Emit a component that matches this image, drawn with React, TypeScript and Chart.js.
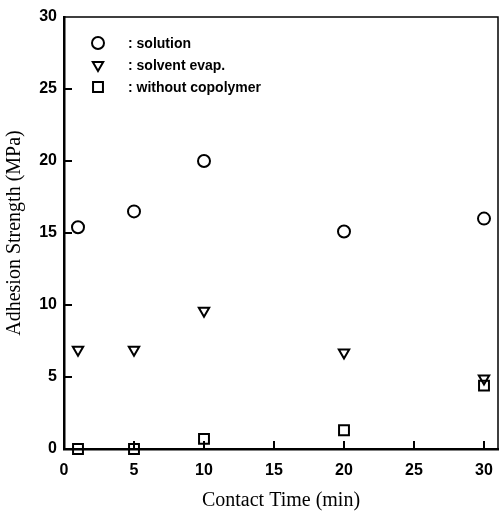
import React, { useEffect, useRef } from 'react';
import { Chart, registerables } from 'chart.js';
import { drawPoint } from 'chart.js/helpers';

Chart.register(...registerables);

// ---- data ----
const contactTime = [1, 5, 10, 20, 30];
const solution = [15.4, 16.5, 20.0, 15.1, 16.0];
const solventEvap = [6.9, 6.9, 9.6, 6.7, 4.9];
const withoutCopolymer = [0.0, 0.0, 0.7, 1.3, 4.4];
const seriesLabels = ['solution', 'solvent evap.', 'without copolymer'];
const xTickValues = [0, 5, 10, 15, 20, 25, 30];
const yTickValues = [0, 5, 10, 15, 20, 25, 30];
const xTitle = 'Contact Time (min)';
const yTitle = 'Adhesion Strength (MPa)';

const toPoints = (ys: number[]) => contactTime.map((x, i) => ({ x, y: ys[i] }));

const frameAndTicks = {
  id: 'frameAndTicks',
  afterDraw(chart: any) {
    const { ctx, chartArea, scales } = chart;
    const { left, right, top, bottom } = chartArea;
    ctx.save();
    ctx.strokeStyle = '#000';
    ctx.lineWidth = 1.5;
    ctx.beginPath();
    ctx.moveTo(left, top);
    ctx.lineTo(right, top);
    ctx.lineTo(right, bottom);
    ctx.stroke();
    ctx.lineWidth = 2;
    const tl = 8;
    ctx.beginPath();
    scales.x.ticks.forEach((t: any) => {
      if (t.value <= 0) return;
      const px = scales.x.getPixelForValue(t.value);
      ctx.moveTo(px, bottom);
      ctx.lineTo(px, bottom - tl);
    });
    scales.y.ticks.forEach((t: any) => {
      if (t.value <= 0 || t.value >= 30) return;
      const py = scales.y.getPixelForValue(t.value);
      ctx.moveTo(left, py);
      ctx.lineTo(left + tl, py);
    });
    ctx.stroke();
    ctx.restore();
  },
};

const innerLegend = {
  id: 'innerLegend',
  afterDraw(chart: any) {
    const { ctx, chartArea } = chart;
    ctx.save();
    ctx.font = 'bold 14px "Liberation Sans", Arial, sans-serif';
    ctx.textBaseline = 'middle';
    ctx.textAlign = 'left';
    chart.data.datasets.forEach((ds: any, i: number) => {
      const y = chartArea.top + 26 + i * 22;
      const mx = chartArea.left + 34;
      ctx.strokeStyle = '#000';
      ctx.fillStyle = 'rgba(0,0,0,0)';
      ctx.lineWidth = ds.pointBorderWidth;
      drawPoint(ctx, { pointStyle: ds.pointStyle, rotation: ds.pointRotation || 0, radius: ds.pointRadius, borderWidth: ds.pointBorderWidth }, mx, y);
      ctx.fillStyle = '#000';
      ctx.fillText(': ' + ds.label, chartArea.left + 64, y + 1);
    });
    ctx.restore();
  },
};

export default function App() {
  const ref = useRef<HTMLCanvasElement | null>(null);
  useEffect(() => {
    document.body.style.margin = '0';
    const common = {
      showLine: false,
      borderColor: '#000',
      backgroundColor: 'rgba(0,0,0,0)',
      pointBorderColor: '#000',
      pointBackgroundColor: 'rgba(0,0,0,0)',
      pointBorderWidth: 2,
    };
    const chart = new Chart(ref.current as HTMLCanvasElement, {
      type: 'scatter',
      data: {
        datasets: [
          { ...common, label: seriesLabels[0], data: toPoints(solution), pointStyle: 'circle', pointRadius: 6 },
          { ...common, label: seriesLabels[1], data: toPoints(solventEvap), pointStyle: 'triangle', pointRotation: 180, pointRadius: 6 },
          { ...common, label: seriesLabels[2], data: toPoints(withoutCopolymer), pointStyle: 'rect', pointRadius: 7 },
        ] as any,
      },
      options: {
        animation: false,
        responsive: true,
        maintainAspectRatio: false,
        layout: { padding: { top: 17, right: 1, left: 0, bottom: 0 } },
        plugins: { legend: { display: false }, tooltip: { enabled: false } },
        elements: { point: { hoverRadius: 6 } },
        datasets: { scatter: { clip: false } } as any,
        scales: {
          x: {
            type: 'linear',
            min: 0,
            max: 31,
            afterBuildTicks: (s: any) => { s.ticks = xTickValues.map((v) => ({ value: v })); },
            afterFit: (s: any) => { s.height = 66; },
            grid: { display: true, drawOnChartArea: false, drawTicks: false },
            border: { display: true, color: '#000', width: 2.5 },
            ticks: {
              color: '#000',
              padding: 12,
              font: { family: '"Liberation Sans", Arial, sans-serif', size: 16, weight: 'bold' },
              maxRotation: 0,
            },
            title: {
              display: true,
              text: xTitle,
              color: '#000',
              padding: { top: 0, bottom: 2 },
              font: { family: '"Liberation Serif", "Times New Roman", serif', size: 20 },
            },
          },
          y: {
            type: 'linear',
            min: 0,
            max: 30,
            afterBuildTicks: (s: any) => { s.ticks = yTickValues.map((v) => ({ value: v })); },
            afterFit: (s: any) => { s.width = 64; },
            grid: { display: true, drawOnChartArea: false, drawTicks: false },
            border: { display: true, color: '#000', width: 2.5 },
            ticks: {
              color: '#000',
              padding: 7,
              font: { family: '"Liberation Sans", Arial, sans-serif', size: 16, weight: 'bold' },
            },
            title: {
              display: true,
              text: yTitle,
              color: '#000',
              padding: { top: 3, bottom: 0 },
              font: { family: '"Liberation Serif", "Times New Roman", serif', size: 20 },
            },
          },
        },
      } as any,
      plugins: [frameAndTicks, innerLegend],
    });
    return () => chart.destroy();
  }, []);
  return (
    <div style={{ position: 'relative', width: 499, height: 515, overflow: 'hidden' }}>
      <div style={{ position: 'relative', width: 507, height: 515 }}>
        <canvas ref={ref} />
      </div>
    </div>
  );
}
